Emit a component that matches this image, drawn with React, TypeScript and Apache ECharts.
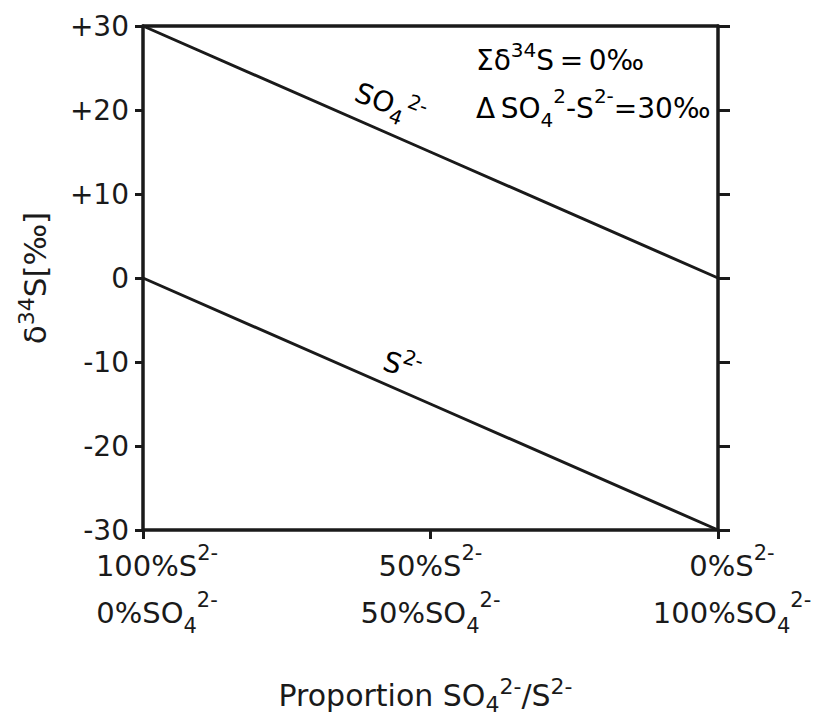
import React, { useEffect, useRef } from "react";
import * as echarts from "echarts";

// Proportion of sulfate (x, % SO4 2-), and the corresponding label texts
const proportionSO4 = [0, 50, 100];
const sulfideLabels = ["100%", "50%", "0%"];
const sulfateLabels = ["0%", "50%", "100%"];

// δ34S values (‰)
const so4Delta = [30, 15, 0];
const sDelta = [0, -15, -30];

const yMin = -30;
const yMax = 30;
const yInterval = 10;

const INK = "#1a1a1a";
const FONT = "DejaVu Sans";

// rich-text styles: n = normal, sup = superscript, sub = subscript
const richBase = (size: number, L: number) => {
  const small = Math.round(size * 0.72);
  return {
    n: { fontSize: size, fontFamily: FONT, color: INK, lineHeight: L },
    sp: { fontSize: size, fontFamily: FONT, color: INK, lineHeight: L, width: 28 },
    sup: { fontSize: small, fontFamily: FONT, color: INK, verticalAlign: "top" },
    sub: { fontSize: small, fontFamily: FONT, color: INK, verticalAlign: "bottom" },
  };
};

export default function App() {
  const ref = useRef<HTMLDivElement>(null);

  useEffect(() => {
    if (!ref.current) return;
    const chart = echarts.init(ref.current, undefined, { renderer: "svg" });

    const option: any = {
      animation: false,
      backgroundColor: "#ffffff",
      grid: { left: 143, right: 105, top: 26, bottom: 190, containLabel: false, outerBoundsMode: "none" },
      xAxis: [
        {
          type: "value",
          position: "bottom",
          min: 0,
          max: 100,
          interval: 50,
          axisLine: { show: true, onZero: false, lineStyle: { color: INK, width: 3.5 } },
          axisTick: { show: true, inside: false, length: 9, lineStyle: { color: INK, width: 3 } },
          splitLine: { show: false },
          axisLabel: {
            show: true,
            margin: 12,
            color: INK,
            align: "center",
            formatter: (v: number) => {
              const i = proportionSO4.indexOf(v);
              if (i < 0) return "";
              const pad = i === 1 ? "" : "{sp| }";
              return `${pad}{n|${sulfideLabels[i]}S}{sup|2-}\n${pad}{n|${sulfateLabels[i]}SO}{sub|4}{sup|2-}`;
            },
            rich: richBase(29, 47),
          },
          name: "{n|Proportion SO}{sub|4}{sup|2-}{n|/S}{sup|2-}",
          nameLocation: "middle",
          nameGap: 145,
          nameTextStyle: { rich: richBase(30, 40), padding: [0, 10, 0, 0] },
        },
        {
          type: "value",
          position: "top",
          min: 0,
          max: 100,
          axisLine: { show: true, onZero: false, lineStyle: { color: INK, width: 3.5 } },
          axisTick: { show: false },
          axisLabel: { show: false },
          splitLine: { show: false },
        },
      ],
      yAxis: [
        {
          type: "value",
          position: "left",
          min: yMin,
          max: yMax,
          interval: yInterval,
          axisLine: { show: true, onZero: false, lineStyle: { color: INK, width: 3.5 } },
          axisTick: { show: true, inside: false, length: 8, lineStyle: { color: INK, width: 3 } },
          splitLine: { show: false },
          axisLabel: {
            margin: 14,
            color: INK,
            fontSize: 28,
            fontFamily: FONT,
            formatter: (v: number) => (v > 0 ? `+${v}` : `${v}`),
          },
          name: "{n|δ}{sup|34}{n|S[‰]}",
          nameLocation: "middle",
          nameRotate: 90,
          nameGap: 88,
          nameTextStyle: { rich: richBase(31, 40) },
        },
        {
          type: "value",
          position: "right",
          min: yMin,
          max: yMax,
          interval: yInterval,
          axisLine: { show: true, onZero: false, lineStyle: { color: INK, width: 3.5 } },
          axisTick: { show: true, inside: false, length: 12, lineStyle: { color: INK, width: 3 } },
          axisLabel: { show: false },
          splitLine: { show: false },
        },
      ],
      series: [
        {
          name: "SO4",
          type: "line",
          xAxisIndex: 0,
          yAxisIndex: 0,
          data: proportionSO4.map((x, i) => [x, so4Delta[i]]),
          showSymbol: false,
          symbol: "none",
          lineStyle: { color: INK, width: 3 },
        },
        {
          name: "S",
          type: "line",
          xAxisIndex: 0,
          yAxisIndex: 0,
          data: proportionSO4.map((x, i) => [x, sDelta[i]]),
          showSymbol: false,
          symbol: "none",
          lineStyle: { color: INK, width: 3 },
        },
      ],
      graphic: [
        {
          type: "text",
          x: 476,
          y: 60,
          style: {
            text: "{n|Σδ}{sup|34}{n|S\u2009=\u20090‰}",
            rich: richBase(28, 40),
            verticalAlign: "middle",
            align: "left",
          },
        },
        {
          type: "text",
          x: 476,
          y: 108,
          style: {
            text: "{n|Δ\u2009SO}{sub|4}{sup|2}{n|-S}{sup|2-}{n|=30‰}",
            rich: richBase(28, 44),
            verticalAlign: "middle",
            align: "left",
          },
        },
        {
          type: "text",
          x: 390,
          y: 104,
          rotation: -0.36,
          style: {
            text: "{n|SO}{sub|4}{sup|2-}",
            rich: richBase(28, 40),
            verticalAlign: "middle",
            align: "center",
          },
        },
        {
          type: "text",
          x: 402,
          y: 366,
          rotation: -0.3,
          style: {
            text: "{n|S}{sup|2-}",
            rich: richBase(28, 40),
            verticalAlign: "middle",
            align: "center",
          },
        },
      ],
    };

    chart.setOption(option);
    return () => chart.dispose();
  }, []);

  return (
    <div
      ref={ref}
      style={{ position: "fixed", left: 0, top: 0, width: 823, height: 720, background: "#fff" }}
    />
  );
}
